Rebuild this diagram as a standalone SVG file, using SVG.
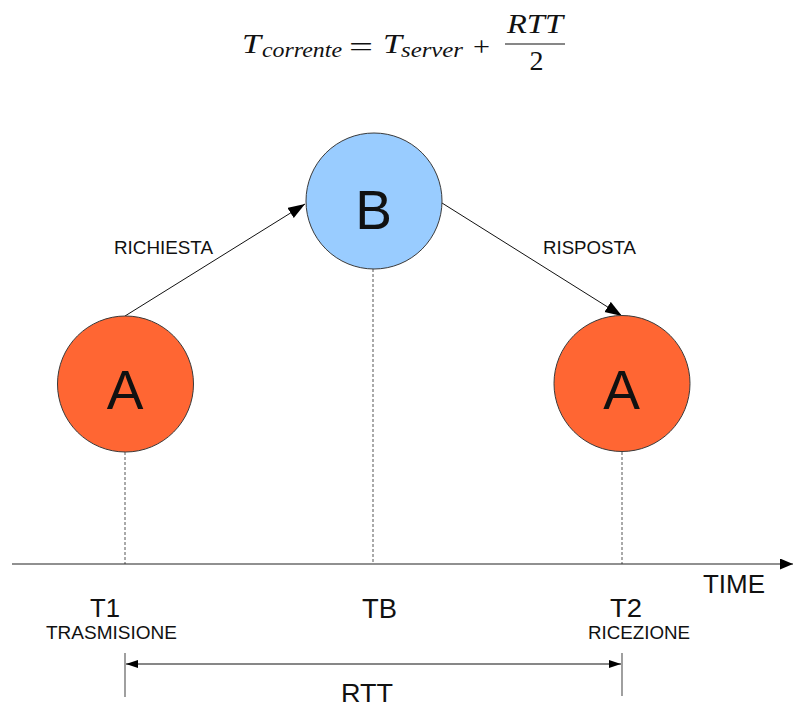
<svg xmlns="http://www.w3.org/2000/svg" width="793" height="709" viewBox="0 0 793 709">
  <style>
    .lbl { font-family: "Liberation Sans", Arial, sans-serif; fill: #111; }
    .math { font-family: "Liberation Serif", "Times New Roman", serif; fill: #111; }
    .it { font-style: italic; }
    .nodeA { fill: #ff6633; stroke: #3a3a3a; stroke-width: 1; }
    .nodeB { fill: #99ccff; stroke: #3a3a3a; stroke-width: 1; }
    .msg { stroke: #111; stroke-width: 1; fill: none; }
    .guide { stroke: #555; stroke-width: 1; stroke-dasharray: 3 2; fill: none; }
    .tick { stroke: #888; stroke-width: 1.6; fill: none; }
  </style>
  <defs>
    <marker id="head" markerUnits="userSpaceOnUse" markerWidth="18" markerHeight="14" refX="17" refY="6" orient="auto">
      <path d="M0,0 L17,6 L0,12 Z" fill="#000"/>
    </marker>
    <marker id="headSmall" markerUnits="userSpaceOnUse" markerWidth="13" markerHeight="10" refX="12" refY="4" orient="auto-start-reverse">
      <path d="M0,0 L12,4 L0,8 Z" fill="#000"/>
    </marker>
    <marker id="axisHead" markerUnits="userSpaceOnUse" markerWidth="14" markerHeight="12" refX="13" refY="5.5" orient="auto">
      <path d="M0,0 L13,5.5 L0,11 Z" fill="#000"/>
    </marker>
  </defs>

  <rect width="793" height="709" fill="#fff"/>

  <!-- formula: T_corrente = T_server + RTT/2 -->
  <g id="formula">
    <text class="math it" x="242" y="53" font-size="28" textLength="19" lengthAdjust="spacingAndGlyphs">T</text>
    <text class="math it" x="262" y="57" font-size="21" textLength="80" lengthAdjust="spacingAndGlyphs">corrente</text>
    <text class="math" x="349" y="56" font-size="28" textLength="24" lengthAdjust="spacingAndGlyphs">=</text>
    <text class="math it" x="383" y="53" font-size="28" textLength="19" lengthAdjust="spacingAndGlyphs">T</text>
    <text class="math it" x="401" y="57" font-size="21" textLength="62" lengthAdjust="spacingAndGlyphs">server</text>
    <text class="math" x="473" y="56" font-size="28" textLength="17" lengthAdjust="spacingAndGlyphs">+</text>
    <text class="math it" x="507" y="33" font-size="28" textLength="56" lengthAdjust="spacingAndGlyphs">RTT</text>
    <line x1="505" y1="44" x2="565" y2="44" stroke="#111" stroke-width="1.2"/>
    <text class="math" x="536.5" y="70" font-size="28" text-anchor="middle">2</text>
  </g>

  <!-- connectors -->
  <g id="connectors">
    <line class="msg" x1="125" y1="316" x2="305" y2="204" marker-end="url(#head)"/>
    <line class="msg" x1="442" y1="203" x2="622" y2="316" marker-end="url(#head)"/>
    <line class="guide" x1="125" y1="452" x2="125" y2="564"/>
    <line class="guide" x1="373" y1="269" x2="373" y2="564"/>
    <line class="guide" x1="622" y1="452" x2="622" y2="564"/>
    <line x1="12" y1="564" x2="793" y2="564" stroke="#222" stroke-width="1.2" marker-end="url(#axisHead)"/>
    <line class="tick" x1="125" y1="653" x2="125" y2="697"/>
    <line class="tick" x1="622" y1="653" x2="622" y2="696"/>
    <line x1="126" y1="664" x2="621" y2="664" stroke="#111" stroke-width="1.2" marker-start="url(#headSmall)" marker-end="url(#headSmall)"/>
  </g>

  <!-- message labels -->
  <text class="lbl" x="114" y="254" font-size="18" textLength="99" lengthAdjust="spacingAndGlyphs">RICHIESTA</text>
  <text class="lbl" x="543" y="254" font-size="18" textLength="93" lengthAdjust="spacingAndGlyphs">RISPOSTA</text>

  <!-- nodes -->
  <g id="nodeA1">
    <circle class="nodeA" cx="125.5" cy="384" r="68"/>
    <text class="lbl" x="125" y="409" font-size="55" text-anchor="middle">A</text>
  </g>
  <g id="nodeB">
    <circle class="nodeB" cx="374" cy="201" r="68"/>
    <text class="lbl" x="373.5" y="229" font-size="55" text-anchor="middle">B</text>
  </g>
  <g id="nodeA2">
    <circle class="nodeA" cx="622" cy="383.5" r="68"/>
    <text class="lbl" x="621.5" y="409" font-size="55" text-anchor="middle">A</text>
  </g>

  <!-- time axis labels -->
  <g id="axisLabels">
    <text class="lbl" x="703" y="593" font-size="26" textLength="62" lengthAdjust="spacingAndGlyphs">TIME</text>
    <text class="lbl" x="90" y="617" font-size="25" textLength="30" lengthAdjust="spacingAndGlyphs">T1</text>
    <text class="lbl" x="46" y="639" font-size="18.5" textLength="131" lengthAdjust="spacingAndGlyphs">TRASMISIONE</text>
    <text class="lbl" x="362" y="618" font-size="27" textLength="35" lengthAdjust="spacingAndGlyphs">TB</text>
    <text class="lbl" x="610" y="617" font-size="25" textLength="32" lengthAdjust="spacingAndGlyphs">T2</text>
    <text class="lbl" x="588" y="639" font-size="18.5" textLength="102" lengthAdjust="spacingAndGlyphs">RICEZIONE</text>
    <text class="lbl" x="341" y="702" font-size="25" textLength="52" lengthAdjust="spacingAndGlyphs">RTT</text>
  </g>
</svg>
